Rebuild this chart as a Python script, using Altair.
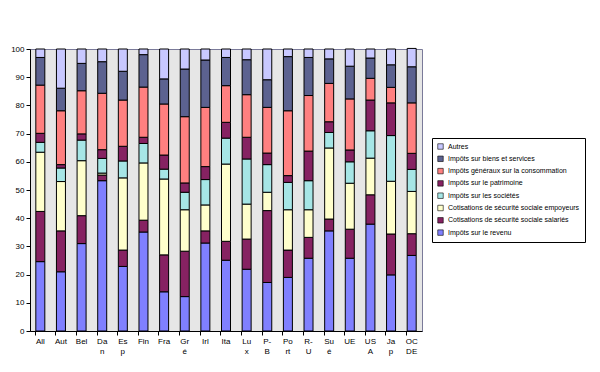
import altair as alt
import pandas as pd

countries = ["All", "Aut", "Bel", "Da|n", "Es|p", "Fin", "Fra", "Gr|é", "Irl", "Ita",
             "Lu|x", "P-|B", "Po|rt", "R-|U", "Su|é", "UE", "US|A", "Ja|p", "OC|DE"]

series_names = [
    "Impôts sur le revenu",
    "Cotisations de sécurité sociale salariés",
    "Cotisations de sécurité sociale empoyeurs",
    "Impôts sur les sociétés",
    "Impôts sur le patrimoine",
    "Impôts généraux sur la consommation",
    "Impôts sur biens et services",
    "Autres",
]

revenu       = [24.6, 21.0, 31.0, 53.3, 22.9, 35.1, 13.9, 12.2, 31.2, 25.1, 21.9, 17.2, 19.0, 25.8, 35.5, 25.8, 37.9, 19.9, 26.8]
salaries     = [17.8, 14.5,  9.9,  2.0,  5.8,  4.2, 13.1, 16.1,  4.3,  6.7, 10.7, 25.5,  9.7,  7.4,  4.2, 10.3, 10.4, 14.5,  7.7]
employeurs   = [21.0, 17.5, 19.5,  0.7, 25.6, 20.3, 26.9, 14.7,  9.2, 27.4, 12.4,  6.5, 14.3,  9.8, 25.2, 16.3, 13.0, 18.7, 15.0]
societes     = [ 3.5,  4.8,  7.3,  5.2,  6.0,  6.9,  3.5,  6.2,  9.0,  9.2, 16.0,  9.8,  9.7, 10.3,  5.5,  7.6,  9.7, 16.2,  7.8]
patrimoine   = [ 3.2,  1.2,  2.2,  3.1,  5.2,  2.2,  5.0,  3.3,  4.6,  5.6,  7.7,  4.1,  2.4, 10.5,  3.8,  4.2, 10.9, 11.6,  5.7]
consommation = [17.1, 19.1, 15.3, 20.0, 16.4, 17.8, 18.1, 23.5, 21.0, 13.0, 15.1, 16.2, 23.0, 19.7, 13.6, 18.1,  7.7,  5.5, 17.9]
biens        = [ 9.8,  8.0,  9.7, 11.2, 10.2, 11.5,  8.9, 16.9, 16.8, 10.0, 12.4,  9.8, 19.2, 13.5,  8.7, 11.6,  7.2,  8.0, 12.8]
autres       = [ 3.0, 13.9,  5.1,  4.5,  7.9,  2.0, 10.6,  7.1,  3.9,  3.0,  3.8, 10.9,  2.7,  3.0,  3.5,  6.1,  3.2,  5.6,  6.5]

series_values = [revenu, salaries, employeurs, societes, patrimoine, consommation, biens, autres]
colors = ["#8080ff", "#862262", "#ffffcc", "#a6e6e6", "#862262", "#ff8080", "#5c6290", "#c8c8ff"]

rows = []
for si, (name, vals) in enumerate(zip(series_names, series_values)):
    for c, v in zip(countries, vals):
        rows.append({"pays": c, "serie": name, "idx": si, "valeur": v})
df = pd.DataFrame(rows)

legend_domain = series_names[::-1]
legend_colors = colors[::-1]

chart = alt.Chart(df).mark_bar(stroke="black", strokeWidth=1, size=9).encode(
    x=alt.X("pays:N", sort=countries, title=None,
            scale=alt.Scale(paddingInner=0.5, paddingOuter=0.25),
            axis=alt.Axis(labelAngle=0, labelExpr="split(datum.label, '|')",
                          bandPosition=0, labelOffset=0, labelFontSize=8,
                          labelFont="Liberation Sans", labelColor="black",
                          labelLineHeight=10, labelPadding=2,
                          tickColor="black", domainColor="black", tickSize=4)),
    y=alt.Y("valeur:Q", stack="zero", title=None,
            scale=alt.Scale(domain=[0, 100], nice=False),
            axis=alt.Axis(values=list(range(0, 101, 10)), grid=False, labelFontSize=8,
                          labelFont="Liberation Sans", labelColor="black",
                          tickColor="black", domainColor="black", tickSize=4, labelPadding=2)),
    color=alt.Color("serie:N", title=None,
                    scale=alt.Scale(domain=legend_domain, range=legend_colors),
                    legend=alt.Legend(orient="none", legendX=402, legendY=89,
                                      symbolType="square", symbolSize=30,
                                      symbolStrokeColor="black", symbolStrokeWidth=0.6,
                                      labelFontSize=7, labelFont="Liberation Sans",
                                      labelColor="black", labelLimit=200,
                                      rowPadding=3.3, padding=5,
                                      strokeColor="black", fillColor="white")),
    order=alt.Order("idx:Q", sort="ascending"),
).properties(
    width=392, height=282,
    autosize=alt.AutoSizeParams(type="none"),
    padding={"left": 22, "top": 41, "right": 170, "bottom": 35},
).configure_view(
    fill="#e6e6e6", stroke="#7a7a99", strokeWidth=1
)

chart.save("out.html", embed_options={"renderer": "svg", "actions": False})
